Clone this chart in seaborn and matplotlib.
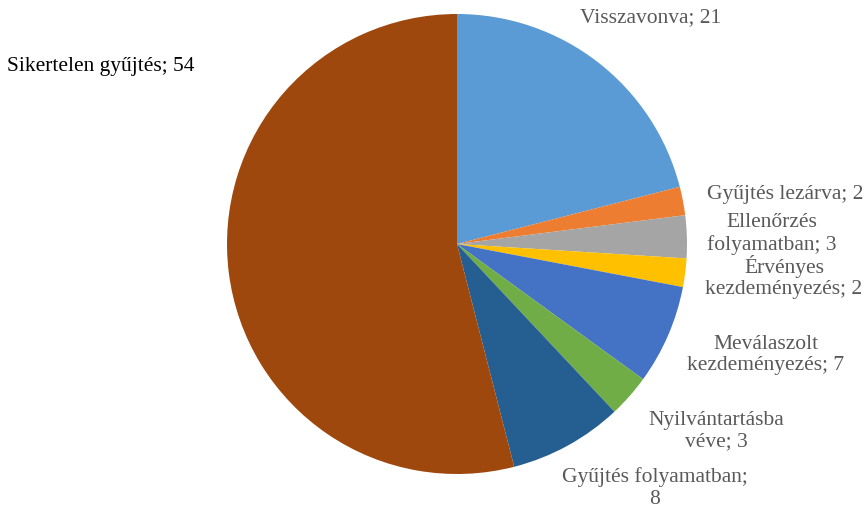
import matplotlib
matplotlib.use('Agg')
import matplotlib.pyplot as plt
import seaborn as sns

# data
labels = ['Visszavonva', 'Gyűjtés lezárva', 'Ellenőrzés\nfolyamatban', 'Érvényes\nkezdeményezés',
          'Meválaszolt\nkezdeményezés', 'Nyilvántartásba\nvéve', 'Gyűjtés folyamatban;\n', 'Sikertelen gyűjtés']
values = [21, 2, 3, 2, 7, 3, 8, 54]
colors = ['#5B9BD5', '#ED7D31', '#A5A5A5', '#FFC000', '#4472C4', '#70AD47', '#255E91', '#9E480E']

# label centre positions in pixels (x, y from top)
label_px = [(651, 18), (785, 195), (772, 234), (784, 277), (766, 355), (716, 431), (655, 488), (101, 67)]
label_colors = ['#595959'] * 7 + ['#000000']

sns.set_theme(style='white')
plt.rcParams['font.family'] = ['Liberation Serif', 'DejaVu Serif']

W, H = 868, 510
cx, cy, r = 457, 245, 230

fig = plt.figure(figsize=(W / 100, H / 100), dpi=100)
ax = fig.add_axes([0, 0, 1, 1])

ax.pie(values, colors=colors, startangle=90, counterclock=False, radius=1,
       wedgeprops=dict(linewidth=0))
ax.set_xlim(-cx / r, (W - cx) / r)
ax.set_ylim(-(H - cy) / r, cy / r)
ax.set_aspect('equal')
ax.axis('off')

for lab, v, (px, py), c in zip(labels, values, label_px, label_colors):
    if lab.endswith('\n'):
        text = lab + str(v)
    else:
        text = f'{lab}; {v}'
    ax.text((px - cx) / r, (cy - py) / r, text, ha='center', va='center',
            fontsize=15.5, color=c, linespacing=1.15)

fig.savefig('out.png', dpi=100)
